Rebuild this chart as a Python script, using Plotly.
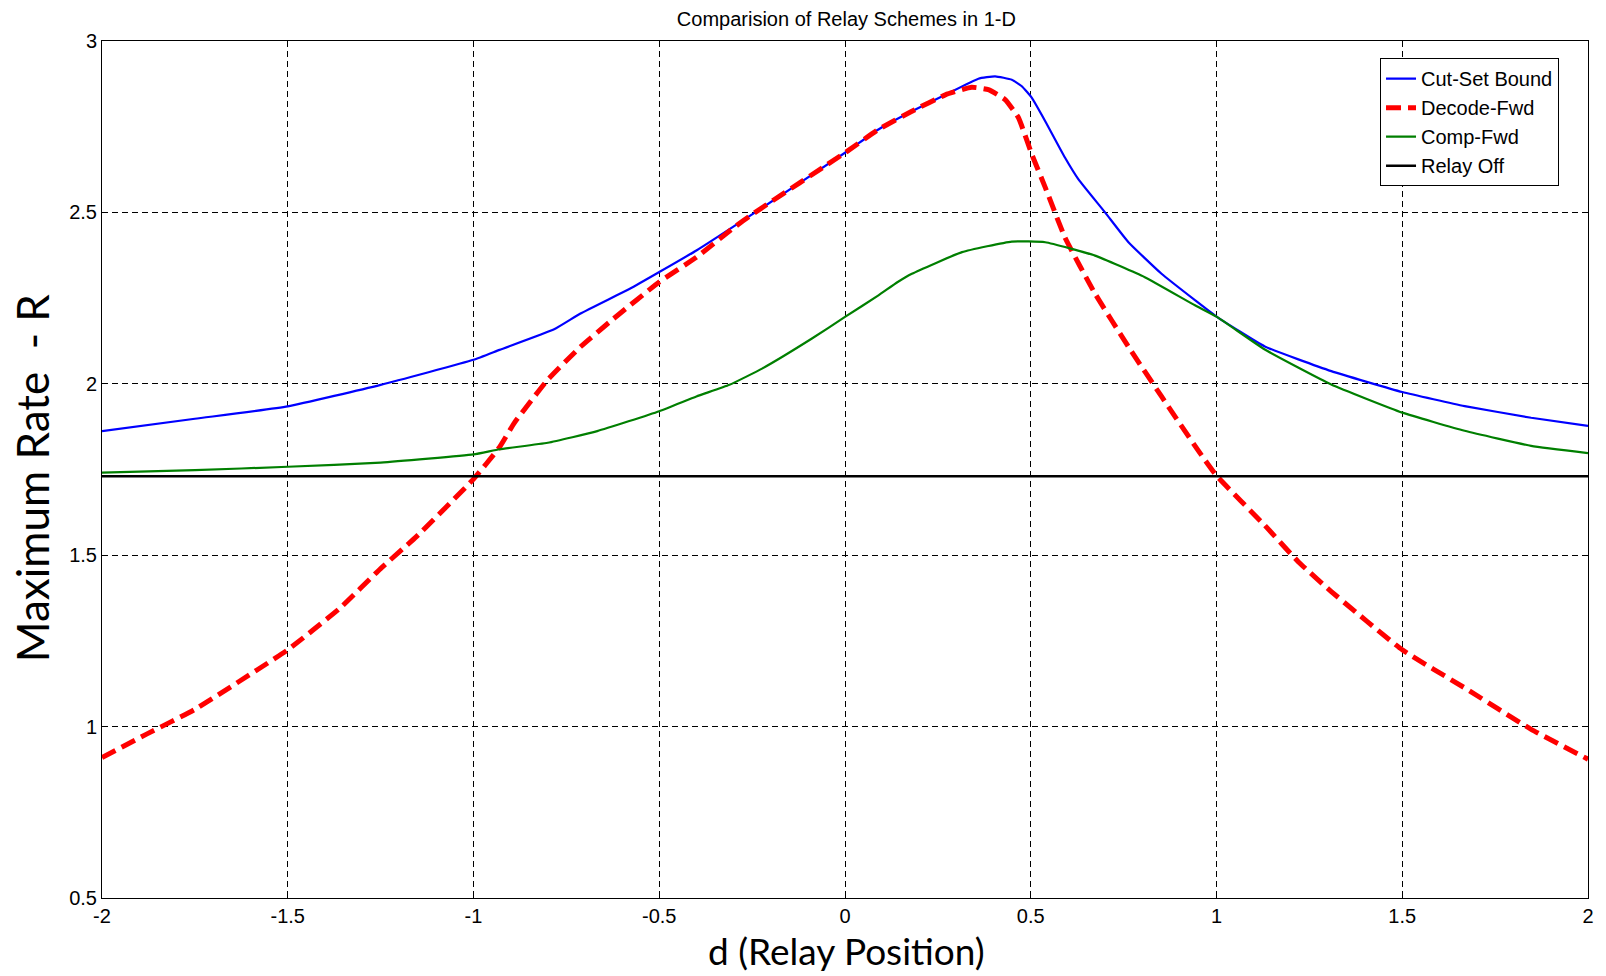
import plotly.graph_objects as go

# ---- data ----
d_cut = [-2.0, -1.75, -1.5, -1.25, -1.0, -0.93, -0.783, -0.712, -0.578, -0.5, -0.4, -0.249, 0.0,
         0.09, 0.18, 0.27, 0.359, 0.404, 0.449, 0.476, 0.503, 0.539, 0.592, 0.628, 0.70, 0.763,
         0.852, 0.942, 1.0, 1.13, 1.309, 1.5, 1.668, 1.847, 2.0]
r_cut = [1.862, 1.898, 1.934, 1.997, 2.070, 2.099, 2.159, 2.205, 2.278, 2.326, 2.389, 2.495, 2.674,
         2.742, 2.795, 2.843, 2.890, 2.897, 2.887, 2.868, 2.834, 2.766, 2.660, 2.597, 2.500, 2.413,
         2.321, 2.244, 2.196, 2.109, 2.037, 1.976, 1.935, 1.901, 1.877]

d_df = [-2.0, -1.88, -1.75, -1.629, -1.5, -1.36, -1.25, -1.153, -1.0, -0.93, -0.89, -0.80, -0.712,
        -0.623, -0.5, -0.4, -0.3, -0.249, 0.0, 0.09, 0.18, 0.27, 0.341, 0.386, 0.431, 0.467, 0.503,
        0.539, 0.592, 0.673, 0.763, 0.852, 0.951, 1.0, 1.13, 1.22, 1.309, 1.5, 1.668, 1.847, 2.0]
r_df = [0.910, 0.978, 1.050, 1.133, 1.224, 1.345, 1.461, 1.555, 1.722, 1.815, 1.886, 2.012, 2.108,
        2.190, 2.297, 2.369, 2.455, 2.495, 2.674, 2.742, 2.795, 2.843, 2.865, 2.858, 2.829, 2.776, 2.669,
        2.573, 2.427, 2.263, 2.108, 1.963, 1.805, 1.732, 1.587, 1.481, 1.394, 1.224, 1.113, 0.992, 0.905]

d_cf = [-2.0, -1.75, -1.5, -1.25, -1.0, -0.93, -0.8, -0.667, -0.5, -0.4, -0.311, -0.222, -0.089, 0.0,
        0.09, 0.142, 0.18, 0.315, 0.449, 0.539, 0.673, 0.807, 0.942, 1.0, 1.13, 1.309, 1.5, 1.668,
        1.847, 2.0]
r_cf = [1.741, 1.748, 1.758, 1.770, 1.794, 1.809, 1.828, 1.862, 1.920, 1.963, 1.997, 2.045, 2.132, 2.195,
        2.258, 2.297, 2.321, 2.384, 2.415, 2.413, 2.374, 2.311, 2.229, 2.196, 2.100, 1.998, 1.916, 1.863,
        1.819, 1.798]

d_off = [-2.0, 2.0]
r_off = [1.73, 1.73]

x_ticks = [-2, -1.5, -1, -0.5, 0, 0.5, 1, 1.5, 2]
x_tick_text = ["-2", "-1.5", "-1", "-0.5", "0", "0.5", "1", "1.5", "2"]
y_ticks = [0.5, 1, 1.5, 2, 2.5, 3]
y_tick_text = ["0.5", "1", "1.5", "2", "2.5", "3"]

fig = go.Figure()
fig.add_trace(go.Scatter(x=d_cut, y=r_cut, mode="lines", name="Cut-Set Bound",
                         line=dict(color="#0000ff", width=2.2, shape="spline", smoothing=0.4)))
fig.add_trace(go.Scatter(x=d_df, y=r_df, mode="lines", name="Decode-Fwd",
                         line=dict(color="#ff0000", width=5, dash="15px,7px", shape="spline", smoothing=0.4)))
fig.add_trace(go.Scatter(x=d_cf, y=r_cf, mode="lines", name="Comp-Fwd",
                         line=dict(color="#007f00", width=2.2, shape="spline", smoothing=0.4)))
fig.add_trace(go.Scatter(x=d_off, y=r_off, mode="lines", name="Relay Off",
                         line=dict(color="#000000", width=2.5)))

tick_font = dict(family="Liberation Sans, Arial", size=20, color="black")
fig.update_layout(
    width=1606, height=976,
    paper_bgcolor="white", plot_bgcolor="white",
    margin=dict(l=102, r=16, t=41, b=78),
    showlegend=True,
    legend=dict(x=0.9805, y=0.98, xanchor="right", yanchor="top",
                bgcolor="white", bordercolor="black", borderwidth=1,
                font=dict(family="Liberation Sans, Arial", size=20, color="black")),
    title=dict(text="Comparision of Relay Schemes in 1-D", x=0.527, xanchor="center",
               y=0.981, yanchor="middle",
               font=dict(family="Liberation Sans, Arial", size=20, color="black")),
    annotations=[
        dict(text="d (Relay Position)", xref="paper", yref="paper", x=0.5013, y=-0.0618,
             xanchor="center", yanchor="middle", showarrow=False,
             font=dict(family="Lato", size=37, color="black")),
        dict(text="Maximum Rate  - R", xref="paper", yref="paper", x=-0.047, y=0.49,
             xanchor="center", yanchor="middle", showarrow=False, textangle=-90,
             font=dict(family="Lato", size=44, color="black")),
    ],
)
fig.update_xaxes(range=[-2, 2], tickvals=x_ticks, ticktext=x_tick_text, tickfont=tick_font,
                 showline=True, linecolor="black", linewidth=1, mirror=True,
                 showgrid=True, gridcolor="black", gridwidth=1, griddash="6px,4px",
                 zeroline=False, ticks="inside", ticklen=6, tickcolor="black")
fig.update_yaxes(range=[0.5, 3], tickvals=y_ticks, ticktext=y_tick_text, tickfont=tick_font,
                 showline=True, linecolor="black", linewidth=1, mirror=True,
                 showgrid=True, gridcolor="black", gridwidth=1, griddash="6px,4px",
                 zeroline=False, ticks="inside", ticklen=6, tickcolor="black")

fig.write_html("out.html")
